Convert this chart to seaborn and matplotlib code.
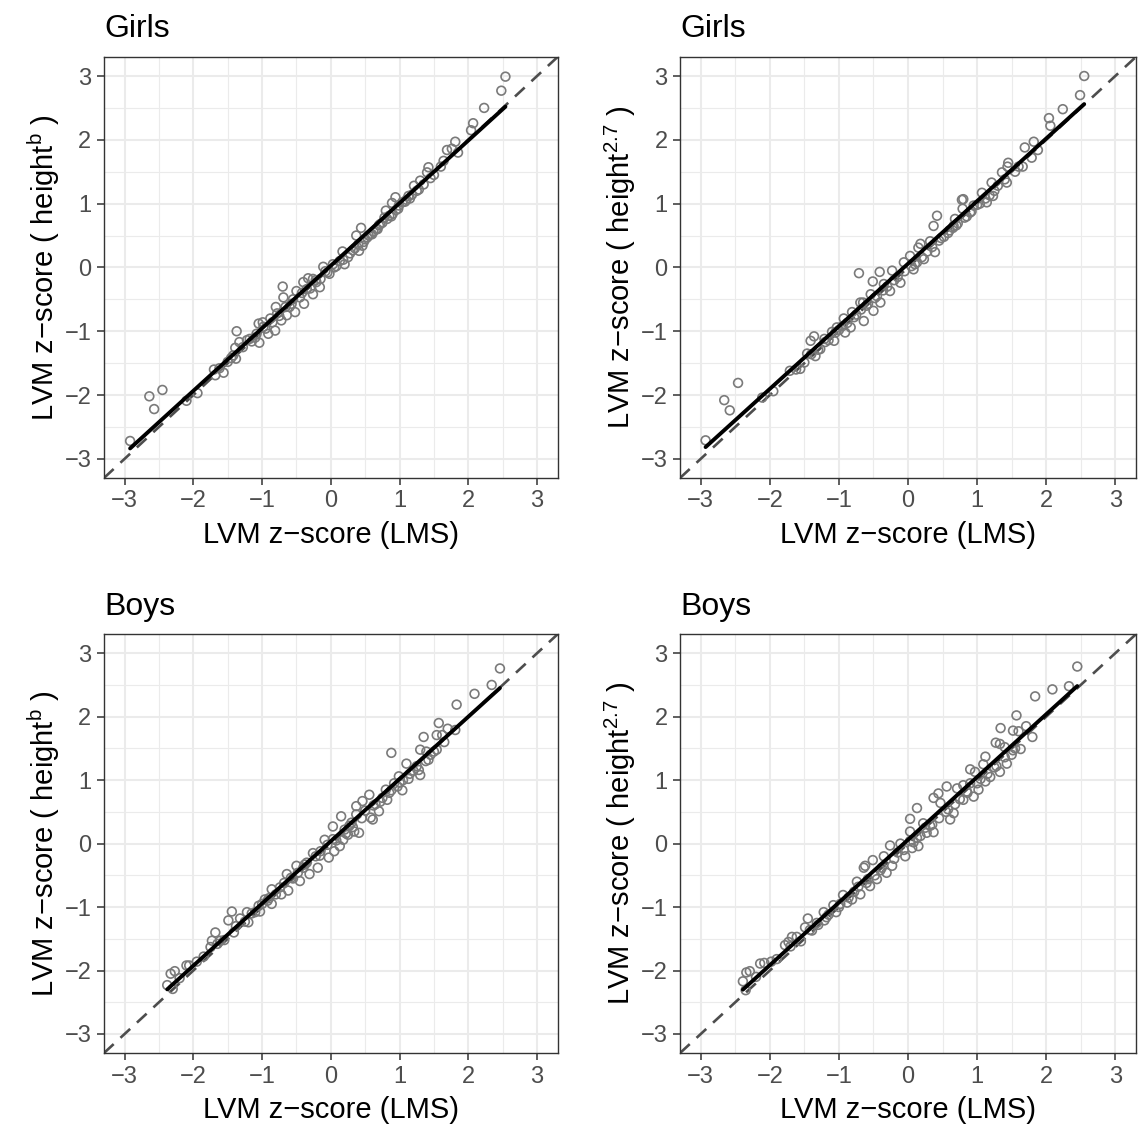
import matplotlib
matplotlib.use("Agg")
import matplotlib.pyplot as plt
import seaborn as sns
import pandas as pd

# Girls, LVM z-score LMS vs height^b
girls_b_x = [-2.92, -2.64, -2.57, -2.45, -2.10, -1.94, -1.70, -1.56, -1.68, -1.45, -1.39, -1.37, -1.33, -1.38,
             -1.22, -1.10, -1.04, -1.05, -0.99, -0.88, -0.91, -0.81, -0.80, -0.69, -0.70, -0.72, -0.64, -0.57,
             -0.50, -0.52, -0.40, -0.33, -0.39, -0.26, -0.21, -0.16, -0.11, -0.02, 0.03, 0.13, 0.20, 0.25, 0.41,
             2.54, 2.48, 2.23, 2.07, 2.04, 1.81, 1.69, 1.76, 1.64, 1.42, 1.40, 1.30, 1.21, 1.13, 0.94, 0.89,
             0.80, 0.78, 0.85, 0.99, 1.04, 0.72, 0.68, 0.44, 0.37, 0.53, 0.46, 0.17, -0.26,
             1.50, 1.35, 1.25, 1.15, 1.08, 0.95, 0.90, 0.75, 0.62, 0.58, 0.50, 0.32, 0.28, 0.08, -0.05, -0.15,
             -0.30, -0.45, -0.60, -0.75, -0.85, -0.95, -1.15, -1.28, -1.50, 1.60, 1.85, 0.70, 0.55, 0.40,
             -1.62, -1.42, -1.18, -1.08, -0.98, -0.78, -0.66, -0.55, -0.42, -0.35, -0.22, -0.08, 0.05, 0.18,
             0.35, 0.48, 0.60, 0.66, 0.82, 0.88, 0.98, 1.10, 1.18, 1.28, 1.45]
girls_b_y = [-2.72, -2.02, -2.22, -1.92, -2.09, -1.97, -1.60, -1.65, -1.69, -1.42, -1.26, -1.00, -1.17, -1.43,
             -1.14, -1.10, -1.18, -0.88, -0.86, -0.80, -1.04, -0.99, -0.62, -0.47, -0.30, -0.83, -0.75, -0.57,
             -0.37, -0.70, -0.23, -0.17, -0.57, -0.42, -0.23, -0.31, 0.01, -0.10, 0.05, 0.10, 0.05, 0.16, 0.26,
             2.99, 2.77, 2.50, 2.26, 2.15, 1.97, 1.84, 1.86, 1.67, 1.57, 1.49, 1.36, 1.28, 1.12, 1.10, 1.01,
             0.89, 0.78, 0.81, 0.97, 1.02, 0.68, 0.60, 0.62, 0.50, 0.47, 0.34, 0.25, -0.18,
             1.45, 1.30, 1.20, 1.08, 1.03, 0.90, 0.84, 0.70, 0.56, 0.52, 0.44, 0.27, 0.22, 0.02, -0.08, -0.18,
             -0.33, -0.47, -0.62, -0.76, -0.86, -0.96, -1.16, -1.25, -1.48, 1.58, 1.80, 0.66, 0.50, 0.36,
             -1.58, -1.38, -1.12, -1.04, -0.93, -0.72, -0.62, -0.50, -0.40, -0.34, -0.20, -0.06, 0.00, 0.12,
             0.30, 0.40, 0.52, 0.60, 0.76, 0.80, 0.92, 1.06, 1.14, 1.22, 1.40]

# Girls, LVM z-score LMS vs height^2.7
girls_27_x = [2.55, 2.49, 2.24, 2.04, 2.06, 1.82, 1.69, 1.79, 1.66, 1.45, 1.44, 1.36, 1.43, 1.21, 1.07, 1.23,
              0.80, 0.78, 0.79, 0.95, 1.14, 0.68, 0.66, 0.42, 0.37, 0.32, 0.18, 0.15, 0.08,
              -2.93, -2.66, -2.58, -2.46, -2.11, -1.95, -1.71, -1.56, -1.46, -1.41, -1.36, -1.34, -1.27, -1.21,
              -1.10, -1.07, -1.03, -0.93, -0.91, -0.81, -0.83, -0.69, -0.65, -0.54, -0.71, -0.51, -0.41, -0.35,
              -0.40, -0.23, -0.26, -0.11, -0.06, 0.03, 0.13, 0.23, 0.39, -0.50, -0.64,
              1.55, 1.30, 1.18, 1.00, 0.90, 0.72, 0.60, 0.52, 0.45, 0.28, 0.10, -0.15, -0.30, -0.45, -0.60,
              -0.75, -0.88, -1.00, -1.15, -1.30, -1.50, 1.88, 0.85, 0.65,
              -1.62, -1.40, -1.20, -1.05, -0.95, -0.78, -0.68, -0.58, -0.48, -0.36, -0.20, -0.05, 0.05, 0.20,
              0.35, 0.48, 0.58, 0.70, 0.82, 0.92, 1.04, 1.12, 1.25, 1.40, 1.60]
girls_27_y = [3.00, 2.70, 2.48, 2.34, 2.22, 1.97, 1.88, 1.72, 1.58, 1.64, 1.58, 1.49, 1.33, 1.33, 1.17, 1.12,
              1.07, 1.06, 0.92, 0.97, 1.02, 0.76, 0.65, 0.81, 0.65, 0.41, 0.37, 0.31, -0.03,
              -2.71, -2.08, -2.24, -1.81, -2.04, -1.94, -1.62, -1.59, -1.35, -1.15, -1.08, -1.39, -1.28, -1.12,
              -1.01, -1.15, -0.94, -0.80, -1.02, -0.70, -0.94, -0.55, -0.55, -0.42, -0.09, -0.22, -0.07, -0.26,
              -0.55, -0.05, -0.37, -0.24, 0.08, 0.18, 0.08, 0.13, 0.24, -0.68, -0.84,
              1.50, 1.28, 1.13, 0.98, 0.86, 0.69, 0.58, 0.48, 0.42, 0.25, 0.05, -0.15, -0.30, -0.45, -0.60,
              -0.74, -0.87, -0.98, -1.14, -1.29, -1.49, 1.84, 0.80, 0.62,
              -1.60, -1.36, -1.17, -1.02, -0.92, -0.78, -0.66, -0.57, -0.48, -0.36, -0.20, -0.06, 0.02, 0.16,
              0.32, 0.46, 0.54, 0.66, 0.78, 0.88, 1.00, 1.08, 1.20, 1.38, 1.58]

# Boys, LVM z-score LMS vs height^b
boys_b_x = [2.46, 2.34, 2.09, 1.83, 1.57, 1.70, 1.81, 1.54, 1.62, 1.54, 1.35, 1.30, 1.39, 1.42, 0.88, 1.10,
            1.28, 1.30, 0.99, 1.13, 0.97, 1.04, 0.80, 0.82, 0.70, 0.56, 0.46, 0.37, 0.58, 0.37, 0.15, 0.27,
            0.03, -0.16,
            -2.38, -2.33, -2.27, -2.30, -2.10, -2.06, -1.75, -1.73, -1.68, -1.61, -1.49, -1.44, -1.41, -1.32,
            -1.22, -1.20, -1.03, -1.00, -0.96, -0.86, -0.86, -0.74, -0.72, -0.64, -0.62, -0.50, -0.45, -0.35,
            -0.31, -0.26, -0.19, -0.09, -0.03, 0.03, 0.05, 0.13, 0.18, 0.25, 0.34, 0.41, 0.61,
            1.20, 1.05, 0.92, 0.75, 0.65, 0.50, 0.30, 0.20, -0.15, -0.40, -0.55, -0.80, -0.92, -1.10, -1.25,
            -1.55, -1.85, 1.45, 1.65, 0.85,
            -2.20, -1.95, -1.65, -1.38, -1.15, -1.05, -0.90, -0.68, -0.58, -0.48, -0.38, -0.22, -0.05, 0.08,
            0.22, 0.32, 0.45, 0.62, 0.72, 0.88, 1.00, 1.15, 1.25, 1.38, 1.50]
boys_b_y = [2.76, 2.50, 2.36, 2.19, 1.90, 1.81, 1.79, 1.71, 1.71, 1.48, 1.68, 1.48, 1.45, 1.32, 1.43, 1.26,
            1.16, 1.08, 1.06, 1.02, 0.90, 0.84, 0.85, 0.69, 0.51, 0.77, 0.67, 0.59, 0.41, 0.46, 0.43, 0.28,
            0.07, -0.19,
            -2.23, -2.05, -2.01, -2.29, -1.92, -1.92, -1.63, -1.53, -1.40, -1.53, -1.21, -1.07, -1.40, -1.18,
            -1.08, -1.24, -1.07, -0.95, -0.88, -0.72, -0.95, -0.69, -0.80, -0.48, -0.74, -0.35, -0.59, -0.30,
            -0.48, -0.15, -0.38, 0.06, -0.22, 0.27, -0.12, -0.04, 0.06, 0.14, 0.19, 0.17, 0.38,
            1.15, 1.00, 0.95, 0.72, 0.62, 0.52, 0.33, 0.22, -0.12, -0.38, -0.55, -0.80, -0.90, -1.08, -1.23,
            -1.52, -1.78, 1.40, 1.60, 0.80,
            -2.12, -1.86, -1.58, -1.30, -1.10, -0.98, -0.86, -0.62, -0.54, -0.46, -0.33, -0.20, -0.02, 0.05,
            0.16, 0.26, 0.40, 0.60, 0.66, 0.84, 0.96, 1.10, 1.22, 1.30, 1.45]

# Boys, LVM z-score LMS vs height^2.7
boys_27_x = [2.45, 2.33, 2.09, 1.84, 1.57, 1.34, 1.52, 1.60, 1.71, 1.80, 1.27, 1.33, 1.40, 1.52, 1.63, 1.12,
             1.09, 0.90, 0.97, 1.43, 1.33, 1.19, 1.12, 0.80, 0.71, 1.02, 0.95, 0.56, 0.44, 0.37, 0.47, 0.80,
             0.66, 0.13, 0.03, 0.22, 0.13, 0.03,
             -2.39, -2.34, -2.29, -2.35, -2.14, -2.08, -1.78, -1.73, -1.68, -1.61, -1.49, -1.45, -1.39, -1.32,
             -1.22, -1.21, -1.08, -1.04, -0.94, -0.88, -0.81, -0.74, -0.69, -0.64, -0.62, -0.55, -0.51, -0.45,
             -0.35, -0.31, -0.26, -0.23, -0.11, -0.04, 0.03, 0.06, 0.15, 0.27, 0.37, 0.61,
             1.25, 1.05, 0.85, 0.75, 0.55, 0.25, -0.15, -0.40, -0.58, -0.78, -0.98, -1.15, -1.30, -1.55, -1.90,
             1.50, 0.35, 0.90,
             -2.20, -1.98, -1.70, -1.42, -1.18, -1.00, -0.86, -0.72, -0.60, -0.48, -0.38, -0.20, -0.06, 0.08,
             0.18, 0.32, 0.45, 0.58, 0.68, 0.86, 1.00, 1.15, 1.28, 1.40, 1.55]
boys_27_y = [2.79, 2.48, 2.43, 2.32, 2.02, 1.82, 1.78, 1.77, 1.85, 1.68, 1.59, 1.57, 1.52, 1.47, 1.49, 1.37,
             1.25, 1.17, 1.13, 1.26, 1.13, 1.05, 0.98, 0.92, 0.87, 0.85, 0.74, 0.90, 0.79, 0.72, 0.64, 0.69,
             0.48, 0.56, 0.39, 0.32, 0.09, 0.04,
             -2.17, -2.03, -2.01, -2.31, -1.89, -1.88, -1.60, -1.55, -1.47, -1.47, -1.32, -1.18, -1.37, -1.25,
             -1.08, -1.21, -0.97, -1.08, -0.81, -0.93, -0.88, -0.60, -0.80, -0.38, -0.35, -0.67, -0.26, -0.56,
             -0.20, -0.46, -0.03, -0.35, 0.00, -0.20, 0.19, -0.07, -0.04, 0.17, 0.18, 0.38,
             1.20, 1.02, 0.82, 0.70, 0.50, 0.25, -0.14, -0.42, -0.56, -0.76, -0.95, -1.12, -1.28, -1.54, -1.82,
             1.40, 0.30, 0.95,
             -2.10, -1.86, -1.62, -1.36, -1.16, -1.00, -0.85, -0.68, -0.62, -0.50, -0.38, -0.24, -0.10, 0.02,
             0.12, 0.28, 0.40, 0.54, 0.62, 0.80, 0.95, 1.10, 1.22, 1.36, 1.50]

titles = ["Girls", "Girls", "Boys", "Boys"]
ylabels = [r"LVM z−score ( height$^{\mathrm{b}}$ )", r"LVM z−score ( height$^{\mathrm{2.7}}$ )",
           r"LVM z−score ( height$^{\mathrm{b}}$ )", r"LVM z−score ( height$^{\mathrm{2.7}}$ )"]
xlabel = "LVM z−score (LMS)"
ticks = [-3, -2, -1, 0, 1, 2, 3]
minor_ticks = [-2.5, -1.5, -0.5, 0.5, 1.5, 2.5]

sns.set_style("white")
plt.rcParams['font.family'] = ['Liberation Sans', 'DejaVu Sans']
plt.rcParams['mathtext.fontset'] = 'custom'
plt.rcParams['mathtext.rm'] = 'Liberation Sans'
plt.rcParams['axes.unicode_minus'] = True

fig = plt.figure(figsize=(11.4, 11.26), dpi=100)
positions = [[0.0912, 0.5755, 0.398, 0.374], [0.5965, 0.5755, 0.400, 0.374],
             [0.0912, 0.0648, 0.398, 0.372], [0.5965, 0.0648, 0.400, 0.372]]
data = [(girls_b_x, girls_b_y), (girls_27_x, girls_27_y), (boys_b_x, boys_b_y), (boys_27_x, boys_27_y)]

for pos, (xs, ys), title, ylab in zip(positions, data, titles, ylabels):
    ax = fig.add_axes(pos)
    df = pd.DataFrame({"lms": xs, "height": ys})
    ax.set_xlim(-3.3, 3.3)
    ax.set_ylim(-3.3, 3.3)
    ax.set_xticks(ticks)
    ax.set_yticks(ticks)
    ax.set_xticks(minor_ticks, minor=True)
    ax.set_yticks(minor_ticks, minor=True)
    ax.grid(which="major", color="#ebebeb", lw=1.5, zorder=0)
    ax.grid(which="minor", color="#ebebeb", lw=0.8, zorder=0)
    ax.set_axisbelow(True)
    ax.axline((0, 0), slope=1, color="#4d4d4d", lw=1.9, ls=(0, (5, 3.5)), zorder=2)
    sns.scatterplot(data=df, x="lms", y="height", ax=ax, marker="o", s=40,
                    facecolor="none", edgecolor="#7a7a7a", linewidth=1.2, zorder=3)
    sns.regplot(data=df, x="lms", y="height", ax=ax, scatter=False, ci=None,
                line_kws={"color": "black", "lw": 2.8, "zorder": 4})
    ax.set_xlabel(xlabel, fontsize=21, color="black", labelpad=6)
    ax.set_ylabel(ylab, fontsize=21, color="black", labelpad=2)
    ax.set_title(title, loc="left", fontsize=23, pad=14, color="black")
    ax.tick_params(which="major", length=5, width=1.1, color="#333333", labelcolor="#4d4d4d",
                   labelsize=17, direction="out", bottom=True, left=True, pad=4)
    ax.tick_params(which="minor", length=0)
    for sp in ax.spines.values():
        sp.set_color("#333333")
        sp.set_linewidth(1.0)

fig.savefig("out.png", dpi=100)
